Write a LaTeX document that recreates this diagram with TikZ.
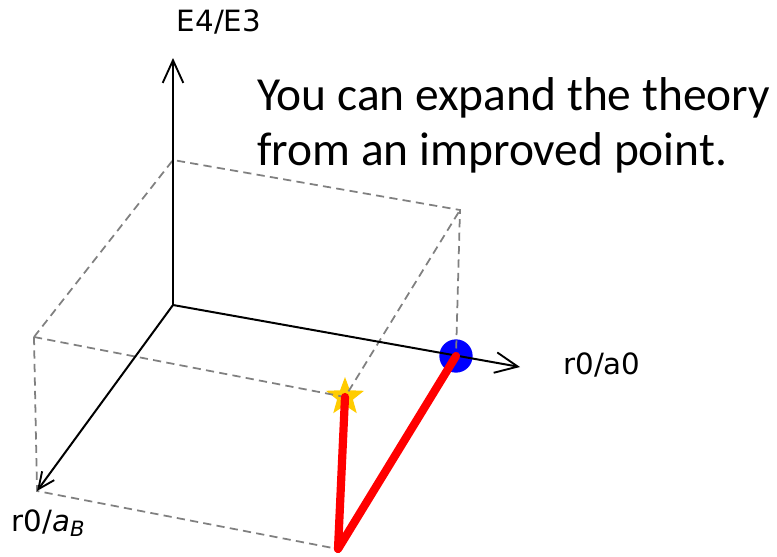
\documentclass[tikz,border=0pt]{standalone}
\usepackage{fontspec}
\setmainfont{DejaVu Sans}
\newfontfamily\notefont{Carlito}
\usetikzlibrary{arrows.meta,shapes.geometric}

\begin{document}
\begin{tikzpicture}[x=0.03cm,y=-0.03cm,
    axis/.style={draw=black,line width=1.7pt,-{Straight Barb[length=0.68cm,width=0.62cm,line width=1.6pt]}},
    guide/.style={draw=gray,line width=1.5pt,dash pattern=on 7pt off 4.5pt},
    route/.style={draw=red,line width=7pt,line cap=round,line join=round},
    lbl/.style={font=\fontsize{25}{30}\selectfont,inner sep=0pt}]
  \useasboundingbox (0,0) rectangle (777,557);
  % axes and box corners
  \coordinate (o) at (173,305);
  \coordinate (ez) at (173,58);
  \coordinate (ex) at (520,367);
  \coordinate (ey) at (37,491);
  \coordinate (top) at (173,160);
  \coordinate (topx) at (460,210);
  \coordinate (topy) at (34,337);
  \coordinate (boty) at (338,549);
  \node[circle,fill=blue,minimum size=1cm,inner sep=0pt] (dot) at (456,356) {};
  \node[star,star points=5,star point ratio=2.4,fill={rgb,255:red,255;green,204;blue,0},
    minimum size=1.2cm,inner sep=0pt] (goal) at (345,397) {};
  % dashed box
  \draw[guide] (topy) -- (top) -- (topx) -- (dot.center);
  \draw[guide] (topy) -- (ey) -- (boty);
  \draw[guide] (topy) -- (goal.center) -- (topx);
  % axes
  \draw[axis] (o) -- (ez);
  \draw[axis] (o) -- (ex);
  \draw[axis,-{Straight Barb[length=0.5cm,width=0.45cm,line width=1.6pt]}] (o) -- (ey);
  \node[lbl] (zlab) at (219,22) {E4/E3};
  \node[lbl] (xlab) at (602,365) {r0/a0};
  \node[lbl] (ylab) at (48,523) {r0/\textit{a}\raisebox{-0.35ex}{\fontsize{18}{20}\selectfont\textit{B}}};
  % path
  \draw[route] (goal.center) -- (boty) -- (dot.center);
  \node[font=\notefont\fontsize{40.5}{47.5}\selectfont,align=left,anchor=north west,inner sep=0pt]
    (note) at (257,77) {You can expand the theory\\from an improved point.};
\end{tikzpicture}
\end{document}
